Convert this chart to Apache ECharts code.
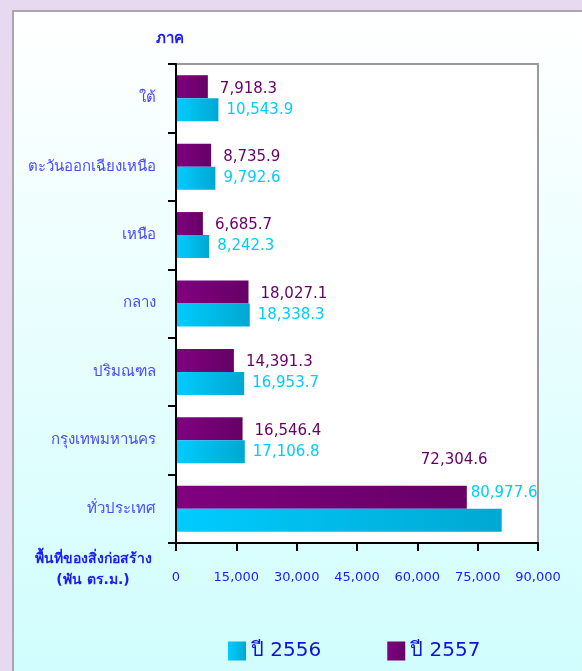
<!DOCTYPE html>
<html>
<head>
<meta charset="utf-8">
<script src="https://cdn.jsdelivr.net/npm/echarts@6/dist/echarts.min.js"></script>
<style>
  html, body { margin: 0; padding: 0; background: #e6d9f0; }
  #panel {
    position: absolute; left: 12px; top: 10px; width: 580px; height: 670px;
    border-left: 2px solid #aaa6b0; border-top: 2px solid #aaa6b0;
    background: linear-gradient(#ffffff 0%, #d0fdfd 100%);
  }
  #main { position: absolute; left: 0; top: 0; width: 582px; height: 671px; }
</style>
</head>
<body>
<div id="panel"></div>
<div id="main"></div>
<script>
// ภาค (แกน y, เรียงจากบนลงล่าง)
var regions = ['ใต้', 'ตะวันออกเฉียงเหนือ', 'เหนือ', 'กลาง', 'ปริมณฑล', 'กรุงเทพมหานคร', 'ทั่วประเทศ'];
// พื้นที่ของสิ่งก่อสร้าง (พัน ตร.ม.)
var values2556 = [10543.9, 9792.6, 8242.3, 18338.3, 16953.7, 17106.8, 80977.6];
var values2557 = [7918.3, 8735.9, 6685.7, 18027.1, 14391.3, 16546.4, 72304.6];
var legendNames = ['ปี 2556', 'ปี 2557'];

var blue = '#1a1aff';
var fmt = function (v) {
  return v.toLocaleString('en-US', { minimumFractionDigits: 1, maximumFractionDigits: 1 });
};
var last = regions.length - 1;

var chart = echarts.init(document.getElementById('main'));
chart.setOption({
  animation: false,
  backgroundColor: 'transparent',
  textStyle: { fontFamily: 'DejaVu Sans, Noto Sans, sans-serif' },
  grid: {
    left: 176, right: 44, top: 64, bottom: 128,
    show: true, backgroundColor: '#ffffff', borderColor: '#9a9a9a', borderWidth: 2
  },
  legend: {
    data: legendNames,
    left: 223, top: 636,
    icon: 'rect', itemWidth: 18, itemHeight: 19, itemGap: 66,
    textStyle: { color: '#1010e0', fontSize: 20 }
  },
  xAxis: {
    type: 'value', min: 0, max: 90000, interval: 15000,
    axisLine: { show: true, onZero: false, lineStyle: { color: '#000', width: 2 } },
    axisTick: { show: true, length: 8, lineStyle: { color: '#000', width: 2 } },
    splitLine: { show: false },
    axisLabel: {
      color: blue, fontSize: 13, margin: 28,
      formatter: function (v) { return v.toLocaleString('en-US'); }
    }
  },
  yAxis: {
    type: 'category', inverse: true, data: regions, z: 5,
    name: 'ภาค', nameLocation: 'start', nameGap: 25,
    nameTextStyle: { color: blue, fontSize: 15, fontWeight: 'bold', verticalAlign: 'middle', padding: [0, 12, 0, 0] },
    axisLine: { show: true, onZero: false, lineStyle: { color: '#000', width: 2 } },
    axisTick: { show: true, inside: false, alignWithLabel: false, length: 8, lineStyle: { color: '#000', width: 2 } },
    axisLabel: { color: '#4a4aff', fontSize: 15, margin: 20 }
  },
  graphic: [{
    type: 'text', x: 93, y: 549, z: 10,
    style: {
      text: 'พื้นที่ของสิ่งก่อสร้าง\n(พัน ตร.ม.)', fill: blue, align: 'center', verticalAlign: 'top',
      font: 'bold 14px "DejaVu Sans", sans-serif', lineHeight: 21
    }
  }],
  series: [
    {
      name: 'ปี 2557', type: 'bar', barWidth: 23, barGap: '0%',
      data: values2557.map(function (v, i) {
        return i === last ? { value: v, label: { offset: [-58, -37] } } : v;
      }),
      itemStyle: {
        color: new echarts.graphic.LinearGradient(0, 0, 1, 0, [
          { offset: 0, color: '#800080' }, { offset: 1, color: '#660066' }
        ])
      },
      label: {
        show: true, position: 'right', distance: 12, offset: [0, 2],
        color: '#660066', fontSize: 15, formatter: function (p) { return fmt(p.value); }
      }
    },
    {
      name: 'ปี 2556', type: 'bar', barWidth: 23, barGap: '0%',
      data: values2556.map(function (v, i) {
        return i === last ? { value: v, label: { offset: [-39, -27] } } : v;
      }),
      itemStyle: {
        color: new echarts.graphic.LinearGradient(0, 0, 1, 0, [
          { offset: 0, color: '#00ccff' }, { offset: 1, color: '#00a8d2' }
        ])
      },
      label: {
        show: true, position: 'right', distance: 8,
        color: '#00ccff', fontSize: 15, formatter: function (p) { return fmt(p.value); }
      }
    }
  ]
});
</script>
</body>
</html>
